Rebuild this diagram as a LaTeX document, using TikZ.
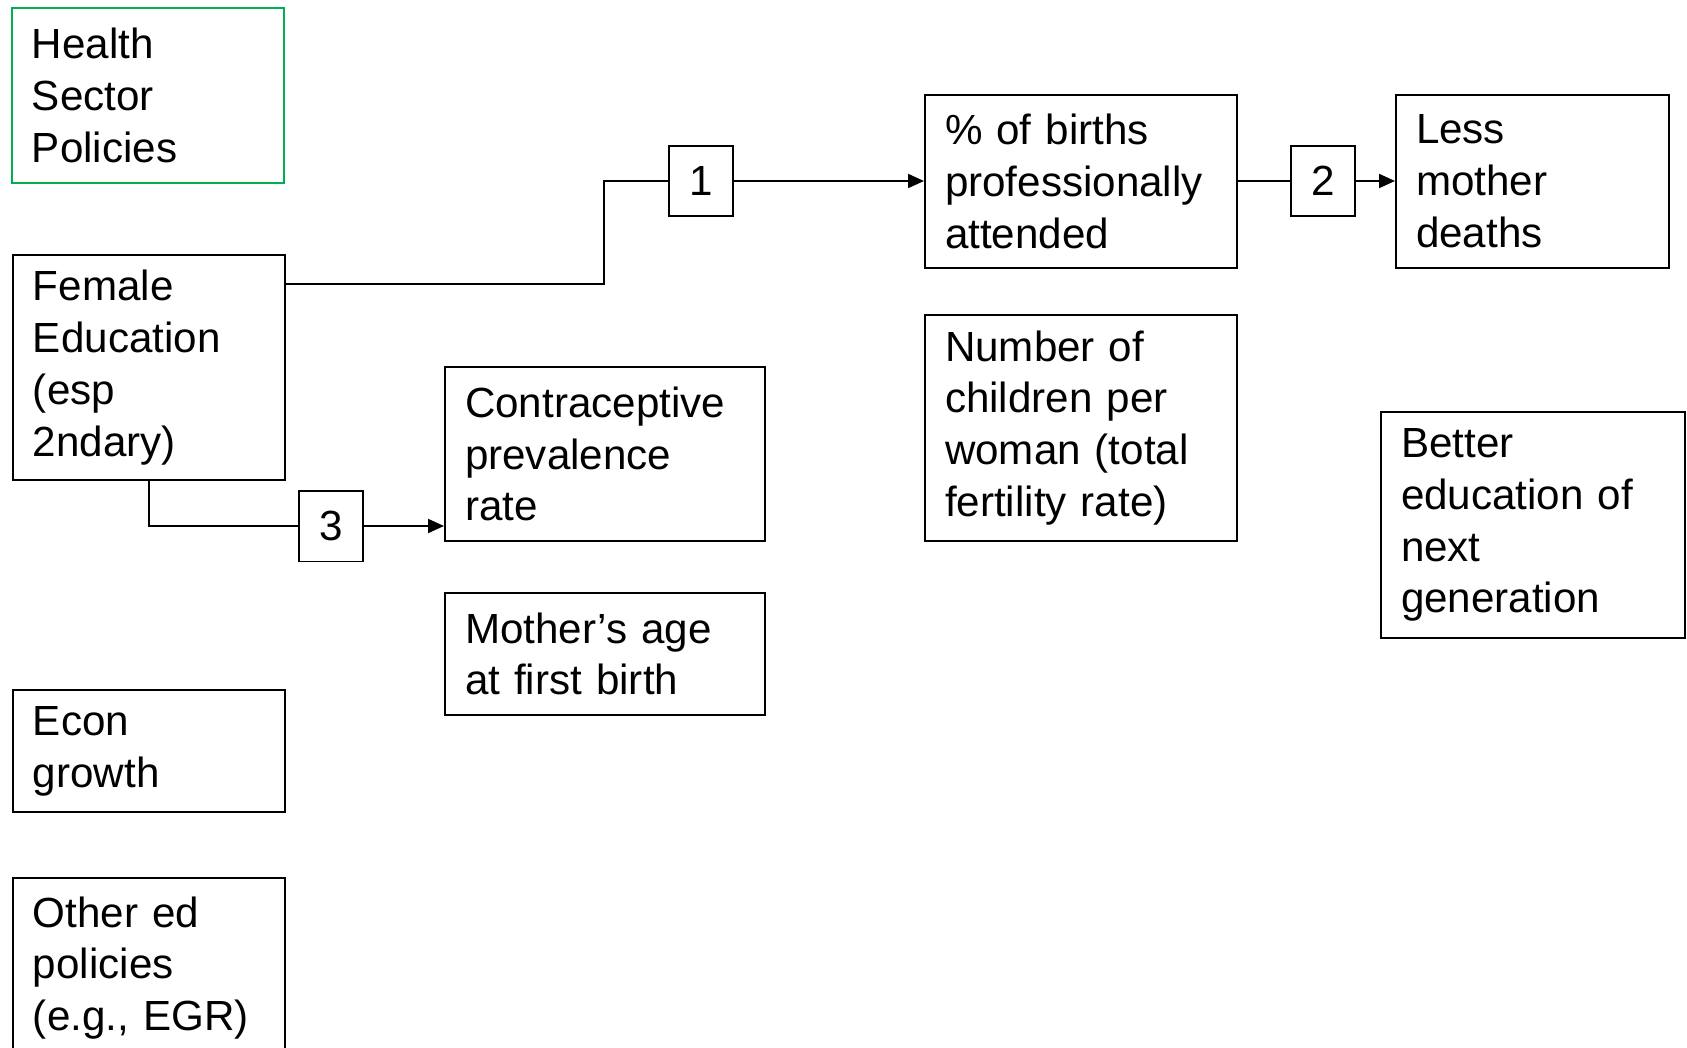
\documentclass[tikz,border=0pt]{standalone}
\usepackage{fontspec}
\setmainfont{Liberation Sans}
\usetikzlibrary{arrows.meta}

\begin{document}
\begin{tikzpicture}[
  x=0.02cm,
  y=-0.02cm,
  factor/.style={draw=black, line width=0.04cm, anchor=north west, align=left, inner xsep=0.4cm, inner ysep=0pt, font=\fontsize{24}{29.5}\selectfont},
  stepbox/.style={draw=black, line width=0.04cm, minimum width=1.28cm, minimum height=1.42cm, inner sep=0pt, font=\fontsize{24}{29.5}\selectfont},
  link/.style={line width=0.04cm, -{Triangle[length=0.32cm, width=0.28cm]}}
]

\definecolor{healthGreen}{RGB}{0,176,80}

\useasboundingbox (0,0) rectangle (1687,1048);

% Left column: upstream determinants
\node[factor, draw=healthGreen, text width=4.64cm, minimum width=5.44cm, minimum height=3.5cm] (health) at (11,7) {Health\\Sector\\Policies};
\node[factor, text width=4.64cm, minimum width=5.44cm, minimum height=4.5cm] (female) at (12,254) {Female\\Education\\(esp\\2ndary)};
\node[factor, text width=4.64cm, minimum width=5.44cm, minimum height=2.44cm] (econ) at (12,689) {Econ\\growth};
\node[factor, text width=4.64cm, minimum width=5.44cm, minimum height=3.6cm] (othered) at (12,877) {Other ed\\policies\\(e.g., EGR)};

% Middle columns: intermediate outcomes
\node[factor, text width=5.6cm, minimum width=6.4cm, minimum height=3.48cm] (contra) at (444,366) {Contraceptive\\prevalence\\rate};
\node[factor, text width=5.6cm, minimum width=6.4cm, minimum height=2.44cm] (mothage) at (444,592) {Mother’s age\\at first birth};
\node[factor, text width=5.44cm, minimum width=6.24cm, minimum height=3.46cm] (births) at (924,94) {\% of births\\professionally\\attended};
\node[factor, text width=5.44cm, minimum width=6.24cm, minimum height=4.52cm] (children) at (924,314) {Number of\\children per\\woman (total\\fertility rate)};

% Right column: final outcomes
\node[factor, text width=4.66cm, minimum width=5.46cm, minimum height=3.46cm] (deaths) at (1395,94) {Less\\mother\\deaths};
\node[factor, text width=5.28cm, minimum width=6.08cm, minimum height=4.52cm] (nextgen) at (1380,411) {Better\\education of\\next\\generation};

% Numbered links
\node[stepbox] (s1) at (701,181) {1};
\node[stepbox] (s2) at (1323,181) {2};
\node[stepbox] (s3) at (331,526) {3};

\coordinate (femout) at ([yshift=-0.6cm]female.north east);
\draw[line width=0.04cm] (femout) -| (604,181) -- (s1.west);
\draw[link] (s1.east) -- (births.west |- s1.east);
\draw[line width=0.04cm] (births.east |- s2.west) -- (s2.west);
\draw[link] (s2.east) -- (deaths.west |- s2.east);
\draw[line width=0.04cm] (female.south) |- (s3.west);
\draw[link] (s3.east) -- (contra.west |- s3.east);

\end{tikzpicture}
\end{document}
